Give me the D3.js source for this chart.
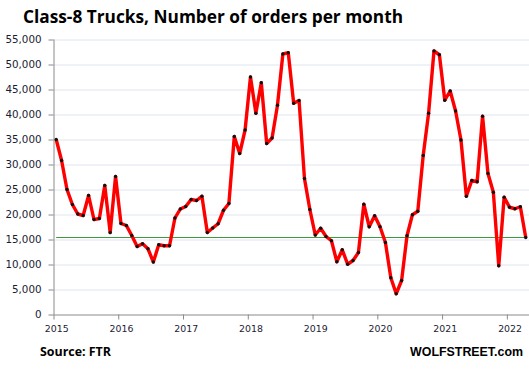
<!DOCTYPE html>
<html>
<head>
<meta charset="utf-8">
<script src="https://cdn.jsdelivr.net/npm/d3@7"></script>
<style>
  body { margin: 0; background: #fff; }
  svg { display: block; }
</style>
</head>
<body>
<div id="graph"></div>
<script>
// monthly orders, Jan 2015 .. Apr 2022
const years = ["2015", "2016", "2017", "2018", "2019", "2020", "2021", "2022"];
const orders2015 = [35000, 30800, 25000, 22000, 20100, 19800, 23800, 19000, 19200, 25800, 16400, 27600];
const orders2016 = [18200, 17800, 15800, 13600, 14150, 13150, 10500, 13950, 13750, 13750, 19300, 21100];
const orders2017 = [21600, 23000, 22800, 23650, 16400, 17300, 18150, 20850, 22200, 35600, 32200, 36900];
const orders2018 = [47500, 40250, 46350, 34200, 35300, 41850, 52100, 52350, 42250, 42800, 27200, 21000];
const orders2019 = [15900, 17250, 15600, 14750, 10550, 12950, 10050, 10800, 12400, 22050, 17550, 19750];
const orders2020 = [17550, 14400, 7350, 4150, 6800, 15750, 19950, 20650, 31800, 40250, 52700, 51950];
const orders2021 = [42850, 44700, 40700, 34900, 23650, 26800, 26550, 39650, 28200, 24450, 9750, 23450];
const orders2022 = [21450, 21150, 21550, 15400];
const yTicks = [0, 5000, 10000, 15000, 20000, 25000, 30000, 35000, 40000, 45000, 50000, 55000];

const orders = [].concat(orders2015, orders2016, orders2017, orders2018,
                         orders2019, orders2020, orders2021, orders2022);
const data = orders.map((v, i) => ({i: i, v: v}));
const last = orders[orders.length - 1];

let W = 529, H = 369;
let margin = {top: 39.5, right: 0, bottom: 54.5, left: 53.5},
    width = W - margin.left - margin.right,
    height = H - margin.top - margin.bottom;

let svg = d3.select("#graph").append("svg")
    .attr("width", W)
    .attr("height", H);

let g = svg.append("g")
    .attr("transform", "translate(" + margin.left + "," + margin.top + ")");

const monthW = 5.397;
let x = d3.scaleLinear().domain([0, 88]).range([0, 88 * monthW]);
let y = d3.scaleLinear().domain([0, 55000]).range([height, 0]);

// gridlines
g.append("g")
    .attr("class", "grid")
    .call(d3.axisLeft(y).tickValues(yTicks.slice(1)).tickSize(-width).tickFormat(""))
    .call(s => s.select(".domain").remove())
    .call(s => s.selectAll("line").attr("stroke", "#dfe4ef").attr("stroke-width", 1));

// y axis
g.append("g")
    .call(d3.axisLeft(y).tickValues(yTicks).tickFormat(d3.format(",")).tickSize(5).tickPadding(7))
    .call(s => s.select(".domain").attr("stroke", "#8a8a8a").attr("d", "M0.5," + height + "V0"))
    .call(s => s.selectAll("line").attr("stroke", "#8a8a8a"))
    .call(s => s.selectAll("text")
        .attr("fill", "#1b1b33")
        .style("font-family", "'DejaVu Sans', sans-serif")
        .style("font-size", "10.3px"));

// x axis
g.append("g")
    .attr("transform", "translate(0," + height + ")")
    .call(d3.axisBottom(x).tickValues(d3.range(0, 85, 12)).tickFormat((d, k) => years[k]).tickSize(5).tickPadding(6))
    .call(s => s.select(".domain").attr("stroke", "#8a8a8a").attr("d", "M0," + 0.5 + "H" + width))
    .call(s => s.selectAll("line").attr("stroke", "#8a8a8a"))
    .call(s => s.selectAll("text")
        .attr("x", monthW / 2)
        .attr("fill", "#1b1b33")
        .style("font-family", "'DejaVu Sans', sans-serif")
        .style("font-size", "9.4px"));

// reference line at latest value
g.append("line")
    .attr("x1", x(0.5)).attr("x2", x(data.length - 0.5))
    .attr("y1", y(last)).attr("y2", y(last))
    .attr("stroke", "#3c9a3c")
    .attr("stroke-width", 1.2);

let valueline = d3.line()
    .x(d => x(d.i + 0.5))
    .y(d => y(d.v));

g.append("path")
    .datum(data)
    .attr("fill", "none")
    .attr("stroke", "#ff0000")
    .attr("stroke-width", 3.4)
    .attr("stroke-linejoin", "round")
    .attr("d", valueline);

g.selectAll(".dot")
    .data(data)
    .enter().append("circle")
    .attr("cx", d => x(d.i + 0.5))
    .attr("cy", d => y(d.v))
    .attr("r", 1.7)
    .attr("fill", "#111");

// titles
svg.append("text")
    .attr("x", 23).attr("y", 23)
    .attr("textLength", 380).attr("lengthAdjust", "spacingAndGlyphs")
    .style("font-family", "'Open Sans', sans-serif")
    .style("font-weight", "bold")
    .style("font-size", "17px")
    .attr("fill", "#000")
    .text("Class-8 Trucks, Number of orders per month");

svg.append("text")
    .attr("x", 40).attr("y", 356)
    .attr("textLength", 71).attr("lengthAdjust", "spacingAndGlyphs")
    .style("font-family", "'Open Sans', sans-serif")
    .style("font-weight", "bold")
    .style("font-size", "12px")
    .attr("fill", "#000")
    .text("Source: FTR");

svg.append("text")
    .attr("x", 523).attr("y", 356)
    .attr("text-anchor", "end")
    .style("font-family", "'Liberation Sans', Arial, sans-serif")
    .style("font-weight", "bold")
    .style("font-size", "12.4px")
    .attr("fill", "#000")
    .text("WOLFSTREET.com");
</script>
</body>
</html>
